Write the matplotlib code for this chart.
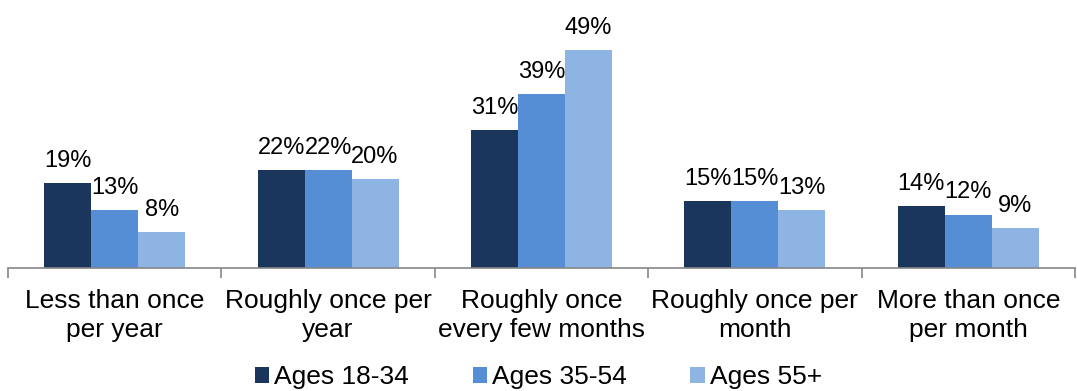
import matplotlib
matplotlib.use("Agg")
import matplotlib.pyplot as plt
import numpy as np
from matplotlib.patches import Patch

plt.rcParams['font.family'] = ['Liberation Sans', 'DejaVu Sans']

categories = ["Less than once\nper year", "Roughly once per\nyear",
              "Roughly once\nevery few months", "Roughly once per\nmonth",
              "More than once\nper month"]
series_names = ["Ages 18-34", "Ages 35-54", "Ages 55+"]
ages_18_34 = [19, 22, 31, 15, 14]
ages_35_54 = [13, 22, 39, 15, 12]
ages_55_plus = [8, 20, 49, 13, 9]
colors = ["#1A365D", "#558ED5", "#8EB4E3"]

fig = plt.figure(figsize=(10.77, 3.91), dpi=100)
ax = fig.add_axes([8 / 1077, (391 - 268) / 391, (1075 - 8) / 1077, 267 / 391])

n = len(categories)
x = np.arange(n)
width = 0.22
all_series = [ages_18_34, ages_35_54, ages_55_plus]
for i, (vals, col, name) in enumerate(zip(all_series, colors, series_names)):
    pos = x + (i - 1) * width
    ax.bar(pos, vals, width=width, color=col, label=name, linewidth=0)
    for xp, v in zip(pos, vals):
        ax.annotate(f"{v}%", (xp, v), xytext=(0, 8), textcoords="offset points",
                    ha="center", va="bottom", fontsize=17, color="#000000")

ax.set_xlim(-0.5, n - 0.5)
ax.set_ylim(0, 60)

for side in ["top", "right", "left"]:
    ax.spines[side].set_visible(False)
ax.spines["bottom"].set_color("#868686")
ax.spines["bottom"].set_linewidth(1.2)
ax.set_yticks([])

# group boundaries as tick marks, labels at group centres
ax.set_xticks(np.arange(-0.5, n, 1.0))
ax.set_xticklabels([])
ax.tick_params(axis="x", which="major", length=7, width=1.2, color="#868686")
ax.set_xticks(x, minor=True)
ax.set_xticklabels(categories, minor=True, fontsize=19, linespacing=1.25)
ax.tick_params(axis="x", which="minor", length=0, pad=15)

handles = [Patch(facecolor=c, edgecolor="none") for c in colors]
fig.legend(handles, series_names, loc="center", bbox_to_anchor=(0.5, 0.036),
           ncol=3, frameon=False, fontsize=19, handlelength=0.55,
           handleheight=0.55, handletextpad=0.2, columnspacing=2.4,
           borderaxespad=0, borderpad=0)

fig.savefig("out.png", dpi=100)
